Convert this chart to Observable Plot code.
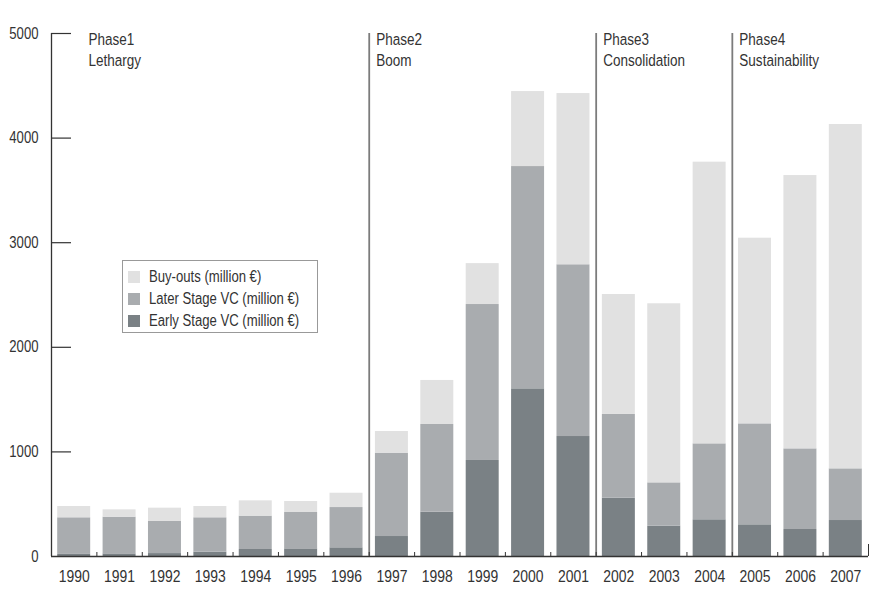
<!DOCTYPE html>
<html>
<head>
<meta charset="utf-8">
<script src="https://cdn.jsdelivr.net/npm/d3@7"></script>
<script src="https://cdn.jsdelivr.net/npm/@observablehq/plot@0.6"></script>
<style>
  body { margin: 0; background: #fff; }
  #wrap { position: relative; width: 883px; height: 596px;
    font-family: "Liberation Sans", Arial, sans-serif; color: #333; }
  #legend { position: absolute; left: 122px; top: 260px; width: 196px; height: 73px;
    box-sizing: border-box; border: 1px solid #999; background: #fff; padding-top: 5px; }
  .row { display: flex; align-items: center; height: 22px; font-size: 16px; white-space: nowrap; }
  .sw { width: 12px; height: 12px; margin-left: 5px; margin-right: 9px; flex: none; }
  .lt { display: inline-block; transform: scaleX(0.82); transform-origin: 0 50%; }
</style>
</head>
<body>
<div id="wrap">
  <div id="chart"></div>
  <div id="legend"></div>
</div>
<script>
// ---- data ----
const years = [1990,1991,1992,1993,1994,1995,1996,1997,1998,1999,2000,2001,2002,2003,2004,2005,2006,2007];
const earlyStage = [20,25,28,41,67,73,83,191,424,918,1603,1147,558,290,351,303,258,344];
const laterStage = [350,351,307,329,319,348,385,797,838,1491,2125,1642,800,414,726,965,771,494];
const buyouts    = [108,70,127,108,146,105,137,207,421,391,717,1637,1147,1712,2693,1775,2613,3292];
const seriesNames = ["Early Stage VC (million €)", "Later Stage VC (million €)", "Buy-outs (million €)"];
const seriesColors = ["#7a8185", "#a9acaf", "#e1e1e1"];
const phaseNames = ["Phase1", "Phase2", "Phase3", "Phase4"];
const phaseTitles = ["Lethargy", "Boom", "Consolidation", "Sustainability"];
const phaseStartYears = [1990, 1997, 2002, 2005];
const yTicks = [0, 1000, 2000, 3000, 4000, 5000];

// ---- stack ----
const seriesValues = [earlyStage, laterStage, buyouts];
const rows = [];
years.forEach((yr, i) => {
  let acc = 0;
  seriesValues.forEach((vals, s) => {
    rows.push({year: yr, series: seriesNames[s], y1: acc, y2: acc + vals[i]});
    acc += vals[i];
  });
});
const phases = phaseNames.map((p, i) => ({name: p, title: phaseTitles[i], start: phaseStartYears[i] - 0.5}));
const boundaries = years.slice(1).map(y => y - 0.5);
const x0 = years[0] - 0.5, xEnd = years[years.length - 1] + 0.5;

const chart = Plot.plot({
  width: 883,
  height: 596,
  marginLeft: 51,
  marginRight: 15,
  marginTop: 33,
  marginBottom: 40,
  style: {fontFamily: "'Liberation Sans', Arial, sans-serif", fontSize: "16px", color: "#333", background: "#fff"},
  x: {domain: [x0, xEnd]},
  y: {domain: [0, 5000]},
  color: {domain: seriesNames, range: seriesColors},
  marks: [
    Plot.rectY(rows, {x1: d => d.year - 0.5, x2: d => d.year + 0.5, y1: "y1", y2: "y2", fill: "series", insetLeft: 6.2, insetRight: 6.2}),
    Plot.ruleX([x0], {stroke: "#333", strokeWidth: 1.3}),
    Plot.ruleY([0], {stroke: "#333", strokeWidth: 1.3}),
    Plot.ruleX(phases.slice(1), {x: "start", y1: 0, y2: 5000, stroke: "#7c7c7c", strokeWidth: 1.8}),
    Plot.axisY({ticks: yTicks, tickSize: 0, tickPadding: 13, tickFormat: d3.format("d"), label: null, fontSize: 16}),
    Plot.axisY({ticks: yTicks.slice(1), tickSize: 20, dx: 20, tickFormat: () => "", label: null, stroke: "#333", strokeWidth: 1.2}),
    Plot.axisX({ticks: years, tickSize: 0, tickPadding: 13, tickFormat: d3.format("d"), label: null, fontSize: 17}),
    Plot.axisX({ticks: boundaries, tickSize: 4, dy: -4, tickFormat: () => "", label: null, stroke: "#333"}),
    Plot.axisX({ticks: [xEnd], tickSize: 12, dy: -12, tickFormat: () => "", label: null, stroke: "#333"}),
    Plot.text(phases.slice(0, 1), {x: "start", y: 5000, text: d => d.name + "\n" + d.title, textAnchor: "start", lineAnchor: "top", lineHeight: 1.3, dx: 37, dy: -4, fill: "#333", fontSize: 16.5}),
    Plot.text(phases.slice(1), {x: "start", y: 5000, text: d => d.name + "\n" + d.title, textAnchor: "start", lineAnchor: "top", lineHeight: 1.3, dx: 7, dy: -4, fill: "#333", fontSize: 16.5})
  ]
});
// condensed look: squeeze every text horizontally around its own anchor
chart.querySelectorAll("text").forEach(t => {
  const tr = t.getAttribute("transform") || "";
  t.setAttribute("transform", (tr + " scale(0.82,1)").trim());
});
document.getElementById("chart").appendChild(chart);

// legend (top-to-bottom: buy-outs, later, early)
const legend = document.getElementById("legend");
[2, 1, 0].forEach(s => {
  const row = document.createElement("div");
  row.className = "row";
  const sw = document.createElement("span");
  sw.className = "sw";
  sw.style.background = seriesColors[s];
  const t = document.createElement("span");
  t.className = "lt";
  t.textContent = seriesNames[s];
  row.appendChild(sw);
  row.appendChild(t);
  legend.appendChild(row);
});
</script>
</body>
</html>
